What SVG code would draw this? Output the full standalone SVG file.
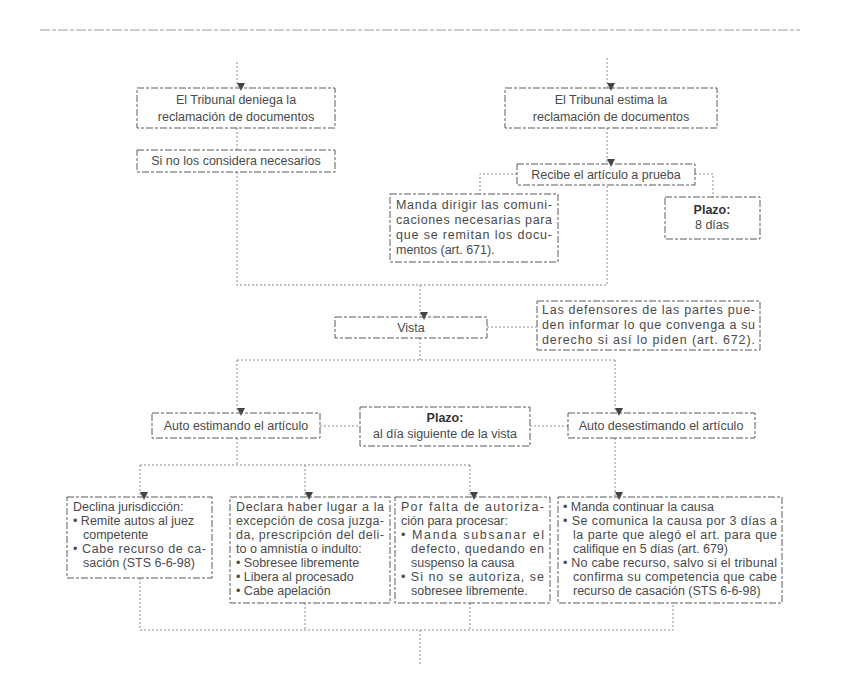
<svg xmlns="http://www.w3.org/2000/svg" width="848" height="686" viewBox="0 0 848 686">
<style>
.bx{fill:none;stroke:#5a5a5a;stroke-width:1;stroke-dasharray:7 2 3 2}
.cn{fill:none;stroke:#8a8a8a;stroke-width:1;stroke-dasharray:2 2}
.t{font-family:"Liberation Sans",Arial,sans-serif;font-size:12.5px;fill:#4a4a4a}
.c{text-anchor:middle}
.b{font-weight:bold;fill:#333}
</style>
<defs>
<marker id="ah" viewBox="0 0 8 8" refX="4" refY="8" markerWidth="8" markerHeight="8" markerUnits="userSpaceOnUse" orient="auto-start-reverse">
<path d="M0,0 L8,0 L4,8 Z" fill="#444" transform="rotate(-90 4 4)"/>
</marker>
</defs>
<rect width="848" height="686" fill="#ffffff"/>
<line x1="40" y1="30" x2="800" y2="30" stroke="#9a9a9a" stroke-width="1" stroke-dasharray="10 2 4 2"/>

<g id="connectors">
<path class="cn" d="M237,62 V87" marker-end="url(#ah)"/>
<path class="cn" d="M607,58 V87" marker-end="url(#ah)"/>
<path class="cn" d="M237,128 V150"/>
<path class="cn" d="M607,128 V163" marker-end="url(#ah)"/>
<path class="cn" d="M517,174 H480 V194"/>
<path class="cn" d="M695,174 H713 V197"/>
<path class="cn" d="M237,172 V285 H607 V185"/>
<path class="cn" d="M420,285 V316" marker-end="url(#ah)"/>
<path class="cn" d="M487,327 H537"/>
<path class="cn" d="M420,338 V360"/>
<path class="cn" d="M237,360 H615"/>
<path class="cn" d="M237,360 V412" marker-end="url(#ah)"/>
<path class="cn" d="M615,360 V412" marker-end="url(#ah)"/>
<path class="cn" d="M320,426 H360"/>
<path class="cn" d="M530,426 H568"/>
<path class="cn" d="M237,438 V465"/>
<path class="cn" d="M140,465 H470"/>
<path class="cn" d="M140,465 V496" marker-end="url(#ah)"/>
<path class="cn" d="M305,465 V496" marker-end="url(#ah)"/>
<path class="cn" d="M470,465 V496" marker-end="url(#ah)"/>
<path class="cn" d="M615,438 V496" marker-end="url(#ah)"/>
<path class="cn" d="M140,578 V630 H673 V603"/>
<path class="cn" d="M305,603 V630"/>
<path class="cn" d="M470,603 V630"/>
<path class="cn" d="M420,630 V665"/>
</g>

<g id="n_deniega">
<rect class="bx" x="137" y="88" width="198" height="40"/>
<text class="t c" x="236" y="104">El Tribunal deniega la</text>
<text class="t c" x="236" y="121">reclamación de documentos</text>
</g>
<g id="n_noconsidera">
<rect class="bx" x="137" y="150" width="198" height="22"/>
<text class="t c" x="236" y="165">Si no los considera necesarios</text>
</g>
<g id="n_estima">
<rect class="bx" x="505" y="88" width="212" height="40"/>
<text class="t c" x="611" y="104">El Tribunal estima la</text>
<text class="t c" x="611" y="121">reclamación de documentos</text>
</g>
<g id="n_recibe">
<rect class="bx" x="517" y="164" width="178" height="21"/>
<text class="t c" x="606" y="179">Recibe el artículo a prueba</text>
</g>
<g id="n_manda">
<rect class="bx" x="390" y="194" width="168" height="68"/>
<text class="t" x="396" y="209" textLength="156" lengthAdjust="spacing">Manda dirigir las comuni-</text>
<text class="t" x="396" y="224" textLength="156" lengthAdjust="spacing">caciones necesarias para</text>
<text class="t" x="396" y="239" textLength="156" lengthAdjust="spacing">que se remitan los docu-</text>
<text class="t" x="396" y="254">mentos (art. 671).</text>
</g>
<g id="n_plazo8">
<rect class="bx" x="665" y="197" width="95" height="42"/>
<text class="t c b" x="712" y="214">Plazo:</text>
<text class="t c" x="712" y="229">8 días</text>
</g>
<g id="n_vista">
<rect class="bx" x="335" y="317" width="152" height="21"/>
<text class="t c" x="411" y="332">Vista</text>
</g>
<g id="n_defensores">
<rect class="bx" x="537" y="301" width="223" height="49"/>
<text class="t" x="542" y="314" textLength="213" lengthAdjust="spacing">Las defensores de las partes pue-</text>
<text class="t" x="542" y="329" textLength="213" lengthAdjust="spacing">den informar lo que convenga a su</text>
<text class="t" x="542" y="344" textLength="213" lengthAdjust="spacing">derecho si así lo piden (art. 672).</text>
</g>
<g id="n_estimando">
<rect class="bx" x="152" y="413" width="168" height="25"/>
<text class="t c" x="236" y="430">Auto estimando el artículo</text>
</g>
<g id="n_plazovista">
<rect class="bx" x="360" y="407" width="170" height="39"/>
<text class="t c b" x="445" y="422">Plazo:</text>
<text class="t c" x="445" y="438">al día siguiente de la vista</text>
</g>
<g id="n_desestimando">
<rect class="bx" x="568" y="413" width="187" height="25"/>
<text class="t c" x="661" y="430">Auto desestimando el artículo</text>
</g>
<g id="n_declina">
<rect class="bx" x="67" y="497" width="145" height="81"/>
<text class="t" x="73" y="511">Declina jurisdicción:</text>
<text class="t" x="73" y="525">• Remite autos al juez</text>
<text class="t" x="83" y="539">competente</text>
<text class="t" x="73" y="553" textLength="133" lengthAdjust="spacing">• Cabe recurso de ca-</text>
<text class="t" x="83" y="567">sación (STS 6-6-98)</text>
</g>
<g id="n_declara">
<rect class="bx" x="230" y="497" width="160" height="106"/>
<text class="t" x="236" y="511" textLength="148" lengthAdjust="spacing">Declara haber lugar a la</text>
<text class="t" x="236" y="525" textLength="148" lengthAdjust="spacing">excepción de cosa juzga-</text>
<text class="t" x="236" y="539" textLength="148" lengthAdjust="spacing">da, prescripción del deli-</text>
<text class="t" x="236" y="553">to o amnistía o indulto:</text>
<text class="t" x="236" y="567">• Sobresee libremente</text>
<text class="t" x="236" y="581">• Libera al procesado</text>
<text class="t" x="236" y="595">• Cabe apelación</text>
</g>
<g id="n_falta">
<rect class="bx" x="395" y="497" width="155" height="106"/>
<text class="t" x="401" y="511" textLength="143" lengthAdjust="spacing">Por falta de autoriza-</text>
<text class="t" x="401" y="525">ción para procesar:</text>
<text class="t" x="401" y="539" textLength="143" lengthAdjust="spacing">• Manda subsanar el</text>
<text class="t" x="411" y="553" textLength="133" lengthAdjust="spacing">defecto, quedando en</text>
<text class="t" x="411" y="567">suspenso la causa</text>
<text class="t" x="401" y="581" textLength="143" lengthAdjust="spacing">• Si no se autoriza, se</text>
<text class="t" x="411" y="595">sobresee libremente.</text>
</g>
<g id="n_continuar">
<rect class="bx" x="558" y="497" width="224" height="106"/>
<text class="t" x="563" y="511">• Manda continuar la causa</text>
<text class="t" x="563" y="525" textLength="214" lengthAdjust="spacing">• Se comunica la causa por 3 días a</text>
<text class="t" x="573" y="539" textLength="204" lengthAdjust="spacing">la parte que alegó el art. para que</text>
<text class="t" x="573" y="553">califique en 5 días (art. 679)</text>
<text class="t" x="563" y="567" textLength="214" lengthAdjust="spacing">• No cabe recurso, salvo si el tribunal</text>
<text class="t" x="573" y="581" textLength="204" lengthAdjust="spacing">confirma su competencia que cabe</text>
<text class="t" x="573" y="595">recurso de casación (STS 6-6-98)</text>
</g>
</svg>
